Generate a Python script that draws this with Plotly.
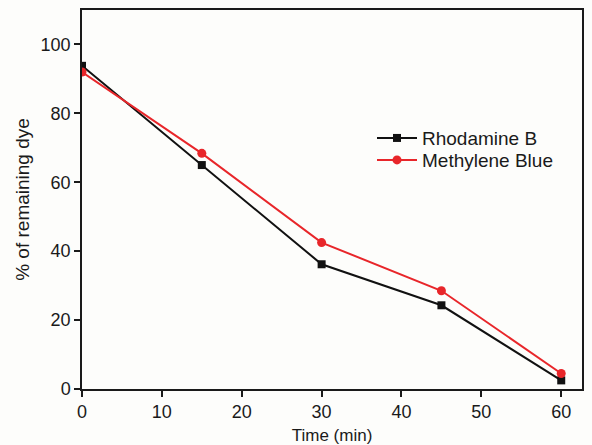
import plotly.graph_objects as go

time_min = [0, 15, 30, 45, 60]
rhodamine_b = [93.8, 65.0, 36.2, 24.3, 2.5]
methylene_blue = [92.0, 68.4, 42.5, 28.5, 4.5]
x_ticks = [0, 10, 20, 30, 40, 50, 60]
y_ticks = [0, 20, 40, 60, 80, 100]

fig = go.Figure()
fig.add_trace(go.Scatter(x=time_min, y=rhodamine_b, mode="lines+markers", name="Rhodamine B",
                         line=dict(color="#111111", width=2),
                         marker=dict(symbol="square", size=8, color="#111111"),
                         legend="legend"))
fig.add_trace(go.Scatter(x=time_min, y=methylene_blue, mode="lines+markers", name="Methylene Blue",
                         line=dict(color="#e8262a", width=2),
                         marker=dict(symbol="circle", size=9, color="#e8262a"),
                         legend="legend2"))

leg_common = dict(xanchor="left", yanchor="middle", bgcolor="rgba(0,0,0,0)",
                  font=dict(size=19), itemwidth=40)
fig.update_layout(
    width=592, height=445,
    margin=dict(l=82, r=10, t=10, b=56),
    paper_bgcolor="#fdfdfb", plot_bgcolor="#fdfdfb",
    font=dict(family="Liberation Sans, Arial", color="#1a1a1a"),
    showlegend=True,
    legend=dict(x=0.58, y=0.662, **leg_common),
    legend2=dict(x=0.58, y=0.604, **leg_common),
)
fig.update_xaxes(range=[0, 62.6], tickvals=x_ticks, showgrid=False, zeroline=False,
                 showline=True, linecolor="#1a1a1a", linewidth=1.5, mirror=True,
                 ticks="outside", ticklen=6, tickwidth=1.5, tickcolor="#1a1a1a",
                 tickfont=dict(size=18), automargin=False,
                 title=dict(text="Time (min)", font=dict(size=17), standoff=10))
fig.update_yaxes(range=[0, 110], tickvals=y_ticks, showgrid=False, zeroline=False,
                 showline=True, linecolor="#1a1a1a", linewidth=1.5, mirror=True,
                 ticks="outside", ticklen=6, tickwidth=1.5, tickcolor="#1a1a1a",
                 tickfont=dict(size=18), automargin=False,
                 title=dict(text="% of remaining dye", font=dict(size=19), standoff=6))

fig.write_html("out.html")
